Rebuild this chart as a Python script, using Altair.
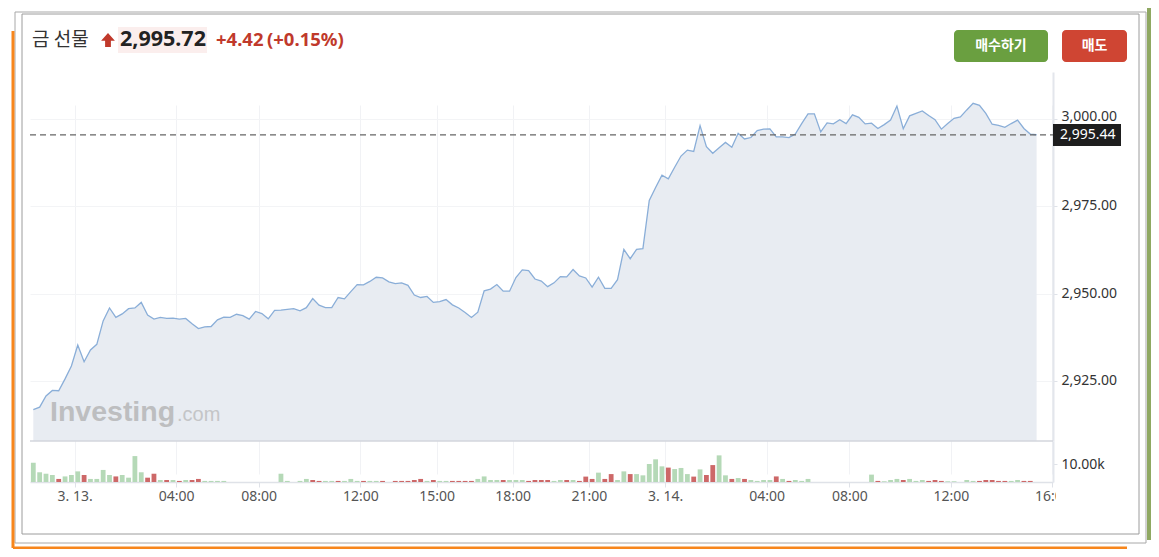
import altair as alt
import pandas as pd

# ---------------- data ----------------
price = [
    2916.8, 2917.5, 2920.7, 2922.3, 2922.2, 2925.6, 2929.3, 2935.3, 2930.5, 2933.9,
    2935.5, 2942.2, 2945.9, 2943.2, 2944.2, 2945.7, 2945.9, 2947.5, 2943.9, 2942.7,
    2943.2, 2942.9, 2943.0, 2942.7, 2942.9, 2941.4, 2940.0, 2940.5, 2940.6, 2942.5,
    2943.3, 2943.2, 2944.1, 2943.7, 2942.7, 2944.9, 2944.3, 2942.8, 2945.2, 2945.3,
    2945.5, 2945.7, 2945.1, 2946.0, 2948.6, 2946.7, 2946.0, 2946.0, 2948.9, 2948.5,
    2950.6, 2952.6, 2952.5, 2953.5, 2954.7, 2954.5, 2953.4, 2952.9, 2953.1, 2952.4,
    2949.6, 2948.9, 2949.2, 2947.5, 2947.7, 2948.3, 2946.8, 2945.9, 2944.6, 2943.2,
    2944.7, 2950.8, 2951.3, 2952.6, 2950.7, 2950.7, 2954.6, 2956.8, 2956.6, 2954.2,
    2953.6, 2952.0, 2953.1, 2954.9, 2954.8, 2956.9, 2955.1, 2954.5, 2951.9, 2954.7,
    2951.5, 2951.5, 2954.0, 2962.7, 2960.0, 2962.7, 2962.9, 2976.7, 2980.4, 2983.9,
    2982.9, 2986.2, 2989.4, 2991.1, 2990.7, 2998.1, 2992.1, 2990.2, 2991.8, 2993.3,
    2991.9, 2995.9, 2994.3, 2994.7, 2996.7, 2997.1, 2997.2, 2994.9, 2994.9, 2994.7,
    2995.7, 2998.7, 3001.5, 3001.5, 2996.3, 2998.9, 2998.6, 2999.8, 2998.7, 3001.2,
    3000.5, 2998.6, 2998.8, 2997.3, 2998.4, 2999.7, 3003.7, 2997.2, 3000.9, 3001.6,
    3002.3, 3001.0, 2999.8, 2997.1, 2998.7, 3000.2, 3000.6, 3002.6, 3004.5, 3003.9,
    3001.6, 2998.5, 2998.2, 2997.6, 2998.7, 2999.7, 2997.3, 2995.7, 2995.5,
]

volume_k = [
    10.7, 5.4, 4.6, 3.9, 1.7, 3.1, 3.9, 5.9, 3.9, 1.7,
    1.7, 6.7, 3.9, 3.1, 3.9, 2.4, 14.4, 5.4, 2.4, 4.6,
    1.1, 1.1, 1.1, 0.6, 1.1, 1.1, 1.7, 0.6, 0.6, 0.6,
    0.6, 0, 0, 0, 0, 0, 0, 0, 0, 4.6,
    0.6, 0, 0.6, 1.7, 1.1, 0.6, 0.6, 0.6, 0.6, 0.6,
    1.7, 0.6, 0.6, 0.6, 0.6, 0.6, 0, 0.6, 0.6, 0.6,
    1.1, 1.7, 0.6, 1.1, 0.6, 0.6, 0.6, 0.6, 0.6, 0.6,
    1.7, 3.1, 1.1, 1.1, 1.1, 1.1, 1.1, 1.1, 0.6, 1.1,
    1.1, 1.1, 0.6, 1.1, 1.1, 1.1, 0.6, 3.0, 1.7, 5.2,
    1.7, 4.4, 1.1, 5.9, 4.4, 4.4, 3.7, 10.0, 12.6, 8.7,
    8.0, 7.2, 7.8, 4.4, 3.0, 7.0, 3.9, 9.4, 14.8, 3.7,
    1.7, 2.2, 1.7, 1.1, 0.6, 1.1, 1.1, 3.1, 1.7, 0.6,
    1.1, 0.6, 1.7, 0, 0, 0, 0, 0, 0, 0,
    0, 0, 4.1, 0.6, 0.4, 1.1, 1.7, 1.1, 1.7, 0.6,
    1.1, 0.6, 1.1, 0.6, 0.4, 0.4, 0, 1.1, 0.6, 0.6,
    1.1, 1.1, 0.6, 0.6, 0.6, 1.1, 0.6, 0.6, 0,
]

direction_codes = (
    "uuuuduuudu" "uuuduuuudd" "udududduuu" "uuuuuuuuuu" "uuuudduudu"
    "uuduududdd" "ddudu" "udddd" "uuuuduuudd" "dduud" "udddu" "dduuduuuuu"
    "duuud" "udduu" "duduu" "uudud" "uuuuuuuuuu" "uuuduuuduu" "udddu" "uuuud"
    "ddddu" "uddu"
)
direction = ["up" if c == "u" else "down" for c in direction_codes]

first_bar = "2025-03-12 22:15"
last_slot = "2025-03-14 16:00"
break_slots = ["06:00", "06:15", "06:30"]

tick_times = ["2025-03-13 00:00", "2025-03-13 04:00", "2025-03-13 08:00", "2025-03-13 12:00",
              "2025-03-13 15:00", "2025-03-13 18:00", "2025-03-13 21:00", "2025-03-14 00:00",
              "2025-03-14 04:00", "2025-03-14 08:00", "2025-03-14 12:00", "2025-03-14 16:00"]
tick_labels = ["3. 13.", "04:00", "08:00", "12:00", "15:00", "18:00", "21:00", "3. 14.",
               "04:00", "08:00", "12:00", "16:00"]

last_price = 2995.44
y_ticks = [2925, 2950, 2975, 3000]
vol_ticks = [10]

# ---------------- tables ----------------
slots = [t for t in pd.date_range(first_bar, last_slot, freq="15min")
         if t.strftime("%H:%M") not in break_slots]
n = len(price)
df = pd.DataFrame({
    "k": list(range(n)),
    "time": [t.strftime("%m-%d %H:%M") for t in slots[:n]],
    "price": price,
    "vol": volume_k[:n],
    "dir": direction[:n],
})
tick_pos = [float(slots.index(pd.Timestamp(t))) - 0.5 for t in tick_times]
label_expr = "''"
for p, lab in reversed(list(zip(tick_pos, tick_labels))):
    label_expr = f"(abs(datum.value - {p}) < 0.01 ? '{lab}' : {label_expr})"
one = pd.DataFrame({"z": [0]})

# ---------------- geometry ----------------
W, H = 1023, 418
FONT = "Noto Sans"
KFONT = "Noto Sans CJK KR"
P_LO, P_HI = 2907.82, 3013.46

XS = alt.Scale(domain=[-0.52, 160.58], nice=False, zero=False, padding=0)
PS = alt.Scale(domain=[P_LO, P_HI], range=[377, 8], nice=False, zero=False)
VS = alt.Scale(domain=[0, 22.78], range=[418, 377], nice=False, zero=False, padding=0)

x_axis = alt.Axis(values=tick_pos, labelExpr=label_expr, title=None, grid=True,
                  gridColor="#f1f2f5", gridWidth=1, tickColor="#dfe2e8", tickSize=5,
                  domain=True, domainColor="#dfe2e8", domainWidth=1.5,
                  labelColor="#555555", labelFontSize=14, labelFont=FONT,
                  labelPadding=2, labelFlush=False, labelOverlap=False)
p_axis = alt.Axis(orient="right", values=y_ticks, format=",.2f", title=None, grid=True,
                  gridColor="#f3f4f6", tickColor="#dfe2e8", tickSize=4,
                  domain=True, domainColor="#e3e6ec", domainWidth=2,
                  labelColor="#333333", labelFontSize=14, labelFont=FONT, labelPadding=4,
                  labelOffset={"condition": {"test": "datum.value == 3000", "value": -3}, "value": -0.5})
v_axis = alt.Axis(orient="right", values=vol_ticks, labelExpr="format(datum.value, '.2f') + 'k'",
                  title=None, grid=False, tickColor="#dfe2e8", tickSize=4,
                  domain=True, domainColor="#e3e6ec", domainWidth=2,
                  labelColor="#333333", labelFontSize=14, labelFont=FONT, labelPadding=4)


def rect(x, x2, y, y2, **kw):
    return alt.Chart(one).mark_rect(**kw).encode(
        x=alt.value(x), x2=alt.value(x2), y=alt.value(y), y2=alt.value(y2))


def txt(text, x, y, **kw):
    return alt.Chart(one).mark_text(text=text, **kw).encode(x=alt.value(x), y=alt.value(y))


# page (X, Y) -> plot (X-30, Y-64)
frames = [
    rect(-15, 1116, -52, 479, fill="white", fillOpacity=0, stroke="#a8a8a8", strokeWidth=1),
    rect(-8, 1109, -50, 470, fill="white", fillOpacity=0, stroke="#9c9c9c", strokeWidth=1),
    alt.Chart(one).mark_rule(color="#f7861c", strokeWidth=3).encode(
        x=alt.value(-17), y=alt.value(-33), y2=alt.value(484)),
    alt.Chart(one).mark_rule(color="#f7861c", strokeWidth=3).encode(
        x=alt.value(-17), x2=alt.value(1097), y=alt.value(484)),
    alt.Chart(one).mark_rule(color="#8fa862", strokeWidth=4).encode(
        x=alt.value(1119), y=alt.value(-56), y2=alt.value(476)),
]

header = [
    txt("금 선물", 2, -24, font=KFONT, fontSize=19, color="#333333", align="left", baseline="middle"),
    alt.Chart(one).mark_point(shape="M0,-1L1,0.1L0.42,0.1L0.42,1L-0.42,1L-0.42,0.1L-1,0.1Z",
                              filled=True, size=190, color="#c0392b", opacity=1).encode(
        x=alt.value(78), y=alt.value(-24)),
    rect(88, 177, -37, -11, fill="#fbeeed"),
    txt("2,995.72", 90, -24, font=FONT, fontSize=21.5, fontWeight="bold", color="#222222",
        align="left", baseline="middle"),
    txt("+4.42", 186, -24, font=FONT, fontSize=18.5, fontWeight="bold", color="#c0392b",
        align="left", baseline="middle"),
    txt("(+0.15%)", 237, -24, font=FONT, fontSize=18.5, fontWeight="bold", color="#c0392b",
        align="left", baseline="middle"),
]

buttons = [
    rect(924, 1018, -34, -2, fill="#6a9f40", cornerRadius=4),
    txt("매수하기", 971, -18, font=KFONT, fontSize=14, fontWeight="bold", color="white",
        align="center", baseline="middle"),
    rect(1032, 1097, -34, -2, fill="#cf4533", cornerRadius=4),
    txt("매도", 1064.5, -18, font=KFONT, fontSize=14, fontWeight="bold", color="white",
        align="center", baseline="middle"),
]

base = alt.Chart(df)
X_ENC = alt.X("k:Q", scale=XS, axis=x_axis)
area = base.mark_area(color="#e8ecf2", opacity=1).encode(
    x=X_ENC,
    y=alt.Y("price:Q", scale=PS, axis=p_axis),
    y2=alt.Y2Datum(P_LO),
)
line = base.mark_line(color="#8aaed8", strokeWidth=1.3).encode(
    x=X_ENC,
    y=alt.Y("price:Q", scale=PS, axis=None),
)
watermark = [
    txt("Investing", 20, 357, font="Liberation Sans", fontSize=28.5, fontWeight="bold",
        color="#bdbec0", align="left", baseline="alphabetic"),
    txt(".com", 147, 357, font="Liberation Sans", fontSize=20, color="#c4c5c7",
        align="left", baseline="alphabetic"),
]
dashed = alt.Chart(one).mark_rule(color="#666666", strokeWidth=1.3, strokeDash=[6, 4]).encode(
    x=alt.value(0), x2=alt.value(W),
    y=alt.YDatum(last_price, scale=PS, axis=None),
)
separator = alt.Chart(one).mark_rule(color="#d3d6dc", strokeWidth=1.5).encode(
    x=alt.value(0), x2=alt.value(W),
    y=alt.YDatum(P_LO, scale=PS, axis=None),
)
bars = base.mark_bar(size=4.8, opacity=1).encode(
    x=X_ENC,
    y=alt.Y("vol:Q", scale=VS, axis=v_axis),
    y2=alt.Y2Datum(0),
    color=alt.Color("dir:N", scale=alt.Scale(domain=["up", "down"], range=["#b5d9b7", "#cd6868"]),
                    legend=None),
)
pbox = alt.Chart(one).mark_rule(color="#1e1e1e", strokeWidth=22, strokeCap="butt").encode(
    x=alt.value(1023), x2=alt.value(1091),
    y=alt.YDatum(last_price, scale=PS, axis=None),
)
ptext = alt.Chart(one).mark_text(text="2,995.44", font=FONT, fontSize=14, color="white",
                                 align="left", baseline="middle").encode(
    x=alt.value(1030), y=alt.YDatum(last_price, scale=PS, axis=None),
)
cover = rect(1026, 1070, 424, 446, fill="white")

chart = alt.layer(
    *frames, *header, *buttons, area, *watermark, line, dashed, separator, bars, pbox, ptext, cover
).resolve_scale(y="independent").properties(
    width=W, height=H,
    padding={"left": 22, "top": 56, "right": 98, "bottom": 67},
    autosize=alt.AutoSizeParams(type="none"),
).configure_view(stroke=None)

chart.save("out.html", embed_options={"renderer": "svg", "actions": False})
